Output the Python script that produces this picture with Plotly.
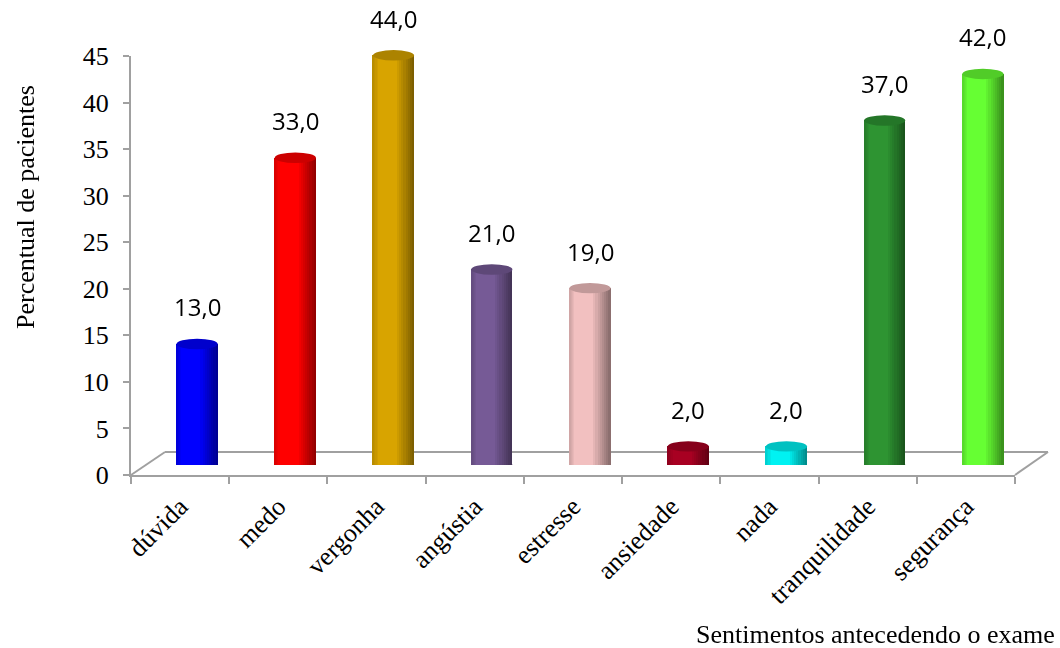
import plotly.graph_objects as go

categories = ["dúvida", "medo", "vergonha", "angústia", "estresse",
              "ansiedade", "nada", "tranquilidade", "segurança"]
values = [13.0, 33.0, 44.0, 21.0, 19.0, 2.0, 2.0, 37.0, 42.0]
bar_colors = ["#0000FF", "#FF0000", "#D8A400", "#765A96", "#F2C0C0",
              "#A80022", "#00F2F2", "#2E9432", "#66FF33"]
y_ticks = [0, 5, 10, 15, 20, 25, 30, 35, 40, 45]
y_title = "Percentual de pacientes"
x_title = "Sentimentos antecedendo o exame"

W, H = 1060, 648
ML, MT = 131, 46
PW, PH = 917, 429          # plot area
FRONT_W, FRONT_H = 884, 419
DX, DY = 17, 10            # depth offset of bar plane
AXIS_GRAY = "#A0A0A0"


def hex2rgb(h):
    h = h.lstrip("#")
    return tuple(int(h[i:i + 2], 16) for i in (0, 2, 4))


def shade(h, f):
    r, g, b = hex2rgb(h)
    return "rgb(%d,%d,%d)" % (min(255, int(r * f)), min(255, int(g * f)), min(255, int(b * f)))


fig = go.Figure()

# invisible trace to set up the front (visible) axes
fig.add_trace(go.Scatter(x=categories, y=values, mode="markers", opacity=0,
                         hoverinfo="skip", showlegend=False,
                         xaxis="x", yaxis="y"))

w = 0.42
# cylinder shading: (left edge fraction, right edge fraction, brightness)
layers = []
n_r = 9
for k in range(n_r):
    t = k / (n_r - 1)
    layers.append((0.0, 1.0 - 0.42 * t, 0.58 + 0.42 * t))
n_l = 4
for k in range(n_l):
    t = k / (n_l - 1)
    layers.append((0.0, 0.12 - 0.09 * t, 0.96 - 0.10 * t))

for a, b, f in layers:
    fig.add_trace(go.Bar(
        x=categories, y=values, xaxis="x2", yaxis="y2",
        width=[(b - a) * w] * len(values), offset=[-w / 2 + a * w] * len(values),
        marker=dict(color=[shade(c, f) for c in bar_colors], line=dict(width=0)),
        showlegend=False, hoverinfo="skip",
    ))

e = 5.2 / 9.31  # ellipse half height in data units
shapes = []
for i, (v, c) in enumerate(zip(values, bar_colors)):
    shapes.append(dict(type="circle", xref="x2", yref="y2",
                       x0=i - w / 2, x1=i + w / 2, y0=-e, y1=e,
                       fillcolor=shade(c, 0.80), line=dict(width=0), layer="below"))
    shapes.append(dict(type="circle", xref="x2", yref="y2",
                       x0=i - w / 2, x1=i + w / 2, y0=v - e, y1=v + e,
                       fillcolor=shade(c, 0.80), line=dict(width=0), layer="above"))

# floor of the 3D plot
fx = FRONT_W / PW
fdx = 2 * DX / PW
fdy = 23 / PH
floor_line = dict(color=AXIS_GRAY, width=2)
shapes += [
    dict(type="line", xref="paper", yref="paper", x0=0, y0=0, x1=fdx, y1=fdy,
         line=floor_line, layer="below"),
    dict(type="line", xref="paper", yref="paper", x0=fdx, y0=fdy, x1=1, y1=fdy,
         line=floor_line, layer="below"),
    dict(type="line", xref="paper", yref="paper", x0=fx, y0=0, x1=1, y1=fdy,
         line=floor_line, layer="below"),
]

annotations = []
for i, v in enumerate(values):
    annotations.append(dict(
        x=i, y=v, xref="x2", yref="y2", text=f"{v:.1f}".replace(".", ","),
        showarrow=False, yshift=37, xanchor="center", yanchor="middle",
        font=dict(family="Open Sans", size=24, color="black")))

annotations.append(dict(
    x=(25 - ML) / PW, y=1 - (207 - MT) / PH, xref="paper", yref="paper",
    text=y_title, textangle=-90, showarrow=False,
    xanchor="center", yanchor="middle",
    font=dict(family="Liberation Serif", size=26, color="black")))
annotations.append(dict(
    x=(1057 - ML) / PW, y=1 - (634 - MT) / PH, xref="paper", yref="paper",
    text=x_title, showarrow=False, xanchor="right", yanchor="middle",
    font=dict(family="Liberation Serif", size=26, color="black")))

fig.update_layout(
    width=W, height=H,
    margin=dict(l=ML, r=W - ML - PW, t=MT, b=H - MT - PH, pad=0),
    paper_bgcolor="white", plot_bgcolor="rgba(0,0,0,0)",
    barmode="overlay", bargap=0,
    showlegend=False,
    shapes=shapes, annotations=annotations,
    xaxis=dict(
        domain=[0, fx], type="category", categoryorder="array",
        categoryarray=categories, range=[-0.5, len(categories) - 0.5],
        anchor="y", tickson="boundaries", ticks="outside", ticklen=7,
        tickcolor=AXIS_GRAY, tickwidth=2, showline=True, linecolor=AXIS_GRAY,
        linewidth=2, showgrid=False, zeroline=False, tickangle=-45,
        ticklabelstandoff=4,
        tickfont=dict(family="Liberation Serif", size=26, color="black"),
    ),
    yaxis=dict(
        domain=[0, FRONT_H / PH], range=[0, 45], anchor="x",
        tickvals=y_ticks, ticks="outside", ticklen=6, tickcolor=AXIS_GRAY,
        tickwidth=2, showline=True, linecolor=AXIS_GRAY, linewidth=2,
        showgrid=False, zeroline=False, ticklabelstandoff=9,
        tickfont=dict(family="Liberation Serif", size=26, color="black"),
    ),
    xaxis2=dict(
        domain=[DX / PW, (DX + FRONT_W) / PW], type="category",
        categoryorder="array", categoryarray=categories,
        range=[-0.5, len(categories) - 0.5], anchor="y2", visible=False,
    ),
    yaxis2=dict(
        domain=[DY / PH, 1], range=[0, 45], anchor="x2", visible=False,
    ),
)

fig.write_html("out.html")
